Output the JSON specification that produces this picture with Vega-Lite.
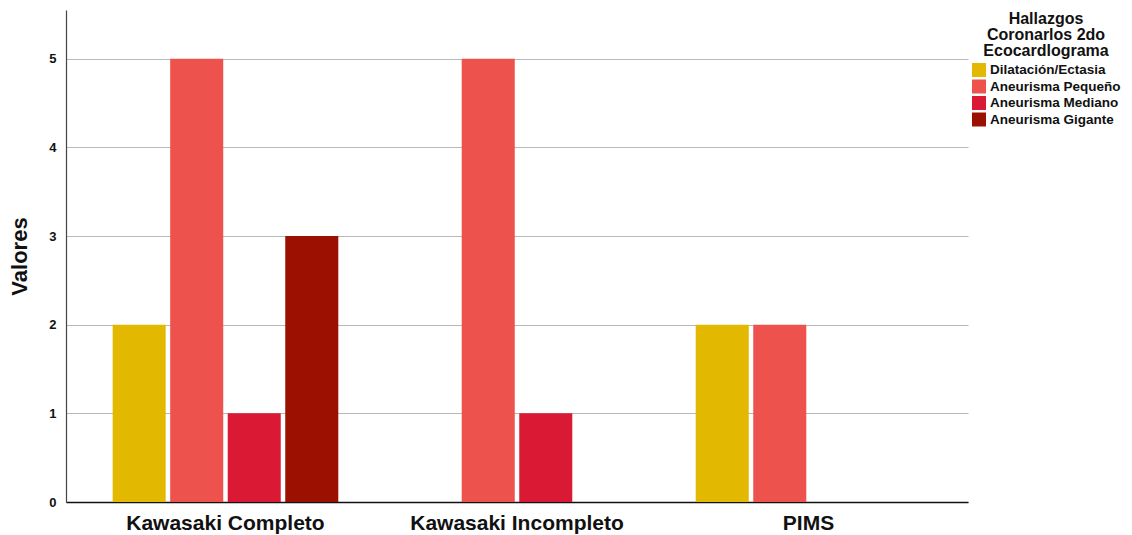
{
  "$schema": "https://vega.github.io/schema/vega-lite/v6.json",
  "autosize": "none",
  "width": 902,
  "height": 492,
  "padding": {"left": 66, "top": 10, "right": 164, "bottom": 33},
  "config": {
    "font": "Liberation Sans",
    "view": {"stroke": null},
    "axis": {"labelFont": "Liberation Sans", "titleFont": "Liberation Sans"}
  },
  "data": {
    "values": [
      {"grupo": "Kawasaki Completo", "hallazgo": "Dilatación/Ectasia", "valor": 2},
      {"grupo": "Kawasaki Completo", "hallazgo": "Aneurisma Pequeño", "valor": 5},
      {"grupo": "Kawasaki Completo", "hallazgo": "Aneurisma Mediano", "valor": 1},
      {"grupo": "Kawasaki Completo", "hallazgo": "Aneurisma Gigante", "valor": 3},
      {"grupo": "Kawasaki Incompleto", "hallazgo": "Dilatación/Ectasia", "valor": 0},
      {"grupo": "Kawasaki Incompleto", "hallazgo": "Aneurisma Pequeño", "valor": 5},
      {"grupo": "Kawasaki Incompleto", "hallazgo": "Aneurisma Mediano", "valor": 1},
      {"grupo": "Kawasaki Incompleto", "hallazgo": "Aneurisma Gigante", "valor": 0},
      {"grupo": "PIMS", "hallazgo": "Dilatación/Ectasia", "valor": 2},
      {"grupo": "PIMS", "hallazgo": "Aneurisma Pequeño", "valor": 2},
      {"grupo": "PIMS", "hallazgo": "Aneurisma Mediano", "valor": 0},
      {"grupo": "PIMS", "hallazgo": "Aneurisma Gigante", "valor": 0}
    ]
  },
  "mark": {"type": "bar"},
  "encoding": {
    "x": {
      "field": "grupo",
      "type": "nominal",
      "sort": ["Kawasaki Completo", "Kawasaki Incompleto", "PIMS"],
      "scale": {"paddingInner": 0.226, "paddingOuter": 0.16},
      "axis": {
        "title": null,
        "labelAngle": 0,
        "labelFontSize": 21,
        "labelFontWeight": "bold",
        "labelColor": "#111111",
        "labelPadding": 10,
        "labelLimit": 0,
        "ticks": false,
        "domainColor": "#111111",
        "domainWidth": 1.5,
        "grid": false
      }
    },
    "xOffset": {
      "field": "hallazgo",
      "type": "nominal",
      "sort": ["Dilatación/Ectasia", "Aneurisma Pequeño", "Aneurisma Mediano", "Aneurisma Gigante"],
      "scale": {"paddingInner": 0.078, "paddingOuter": 0}
    },
    "y": {
      "field": "valor",
      "type": "quantitative",
      "scale": {"domain": [0, 5.55], "nice": false},
      "axis": {
        "title": "Valores",
        "titleFontSize": 22,
        "titleFontWeight": "bold",
        "titleColor": "#111111",
        "titlePadding": 17,
        "values": [0, 1, 2, 3, 4, 5],
        "format": "d",
        "labelFontSize": 13,
        "labelFontWeight": "bold",
        "labelColor": "#111111",
        "labelPadding": 10,
        "ticks": false,
        "domainColor": "#444444",
        "domainWidth": 1.2,
        "gridColor": "#b8b8b8",
        "gridWidth": 1
      }
    },
    "color": {
      "field": "hallazgo",
      "type": "nominal",
      "sort": ["Dilatación/Ectasia", "Aneurisma Pequeño", "Aneurisma Mediano", "Aneurisma Gigante"],
      "scale": {
        "domain": ["Dilatación/Ectasia", "Aneurisma Pequeño", "Aneurisma Mediano", "Aneurisma Gigante"],
        "range": ["#e3b800", "#ee524c", "#da1a35", "#9b1000"]
      },
      "legend": {
        "title": ["Hallazgos", "Coronarlos 2do", "Ecocardlograma"],
        "titleFontSize": 16,
        "titleFontWeight": "bold",
        "titleColor": "#111111",
        "titleAlign": "center",
        "titleAnchor": "middle",
        "titleLineHeight": 16,
        "titlePadding": 4,
        "orient": "none",
        "legendX": 906,
        "legendY": 1,
        "symbolType": "square",
        "symbolSize": 196,
        "symbolStrokeWidth": 0,
        "labelFontSize": 13.5,
        "labelFontWeight": "bold",
        "labelColor": "#111111",
        "labelOffset": 4,
        "labelLimit": 0,
        "rowPadding": 2.5
      }
    }
  }
}
